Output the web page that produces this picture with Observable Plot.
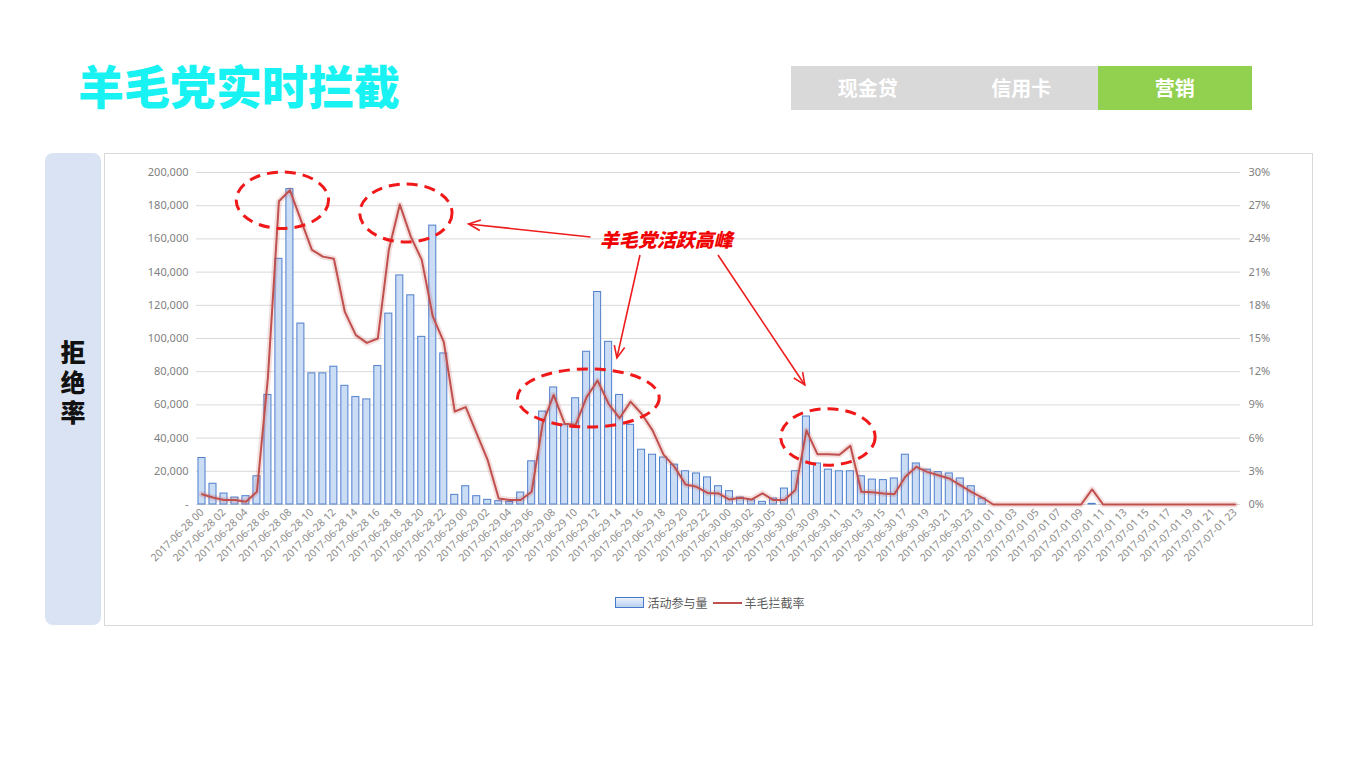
<!DOCTYPE html>
<html><head><meta charset="utf-8">
<script src="https://cdn.jsdelivr.net/npm/d3@7"></script>
<script src="https://cdn.jsdelivr.net/npm/@observablehq/plot@0.6"></script>
<style>
body{margin:0;background:#fff;width:1366px;height:768px;position:relative;overflow:hidden;font-family:"Noto Sans CJK SC","Noto Sans",sans-serif;}
#title{position:absolute;left:78px;top:52px;font-size:46px;font-weight:900;color:#18f2f2;letter-spacing:0px;line-height:64px;white-space:nowrap;}
#tabs{position:absolute;left:791px;top:66px;height:44px;display:flex;}
.tab{width:153.5px;height:44px;line-height:44px;text-align:center;color:#fff;font-size:20px;font-weight:700;background:#d9d9d9;}
.tab.on{background:#92d050;}
#side{position:absolute;left:45px;top:153px;width:56px;height:472px;background:#dae3f3;border-radius:8px;}
#sideText{position:absolute;left:58px;width:30px;top:340px;height:100px;writing-mode:vertical-rl;text-orientation:upright;letter-spacing:5px;font-size:25px;font-weight:900;line-height:30px;color:#111;}
#box{position:absolute;left:104px;top:153px;width:1209px;height:473px;border:1px solid #d9d9d9;box-sizing:border-box;}
#chart{position:absolute;left:104px;top:153px;}
#legend{position:absolute;top:594px;left:0;width:1420px;text-align:center;font-size:12px;color:#595959;display:flex;justify-content:center;align-items:center;gap:3px;}
.sw{display:inline-block;width:27px;height:9px;border:1px solid #4a78c8;background:linear-gradient(#eaf1fb,#b9d0f0);}
.ln{display:inline-block;width:29px;height:2px;background:#c0504d;margin-left:2px;}
</style></head><body>
<div id="title">羊毛党实时拦截</div>
<div id="tabs"><div class="tab">现金贷</div><div class="tab">信用卡</div><div class="tab on">营销</div></div>
<div id="side"></div>
<div id="sideText">拒绝率</div>
<div id="box"></div>
<div id="chart"></div>
<div id="legend"><span class="sw"></span><span>活动参与量</span><span class="ln"></span><span>羊毛拦截率</span></div>
<script>
// Hourly categories (06-30 04 is absent in the source)
const categories = [
"2017-06-28 00","2017-06-28 01","2017-06-28 02","2017-06-28 03","2017-06-28 04","2017-06-28 05","2017-06-28 06","2017-06-28 07","2017-06-28 08","2017-06-28 09","2017-06-28 10","2017-06-28 11","2017-06-28 12","2017-06-28 13","2017-06-28 14","2017-06-28 15","2017-06-28 16","2017-06-28 17","2017-06-28 18","2017-06-28 19","2017-06-28 20","2017-06-28 21","2017-06-28 22","2017-06-28 23",
"2017-06-29 00","2017-06-29 01","2017-06-29 02","2017-06-29 03","2017-06-29 04","2017-06-29 05","2017-06-29 06","2017-06-29 07","2017-06-29 08","2017-06-29 09","2017-06-29 10","2017-06-29 11","2017-06-29 12","2017-06-29 13","2017-06-29 14","2017-06-29 15","2017-06-29 16","2017-06-29 17","2017-06-29 18","2017-06-29 19","2017-06-29 20","2017-06-29 21","2017-06-29 22","2017-06-29 23",
"2017-06-30 00","2017-06-30 01","2017-06-30 02","2017-06-30 03","2017-06-30 05","2017-06-30 06","2017-06-30 07","2017-06-30 08","2017-06-30 09","2017-06-30 10","2017-06-30 11","2017-06-30 12","2017-06-30 13","2017-06-30 14","2017-06-30 15","2017-06-30 16","2017-06-30 17","2017-06-30 18","2017-06-30 19","2017-06-30 20","2017-06-30 21","2017-06-30 22","2017-06-30 23",
"2017-07-01 00","2017-07-01 01","2017-07-01 02","2017-07-01 03","2017-07-01 04","2017-07-01 05","2017-07-01 06","2017-07-01 07","2017-07-01 08","2017-07-01 09","2017-07-01 10","2017-07-01 11","2017-07-01 12","2017-07-01 13","2017-07-01 14","2017-07-01 15","2017-07-01 16","2017-07-01 17","2017-07-01 18","2017-07-01 19","2017-07-01 20","2017-07-01 21","2017-07-01 22","2017-07-01 23"];

// 活动参与量
const activity = [
28000,12500,6600,4200,5000,17000,66000,148000,190000,109000,79000,79000,83000,71500,64700,63300,83400,115000,138000,126000,101000,168000,91000,5800,
11000,5000,2800,2000,1500,7200,26000,56000,70500,48000,64000,92000,128000,98000,66000,48000,33000,30000,28300,24000,20000,18700,16300,11000,
8000,4200,2600,1600,3600,9600,20000,53000,24700,21000,20000,20000,17000,15000,14700,15700,30000,24700,21000,19500,18700,15700,11000,
3600,0,0,0,0,0,0,0,0,0,400,0,0,0,0,0,0,0,0,0,0,0,0,0];

// 羊毛拦截率 (%)
const rate = [
0.93,0.63,0.4,0.4,0.25,1.15,11.5,27.4,28.4,25.7,23.0,22.4,22.2,17.4,15.3,14.6,15.0,23.0,27.1,24.2,22.1,17.0,14.7,8.4,
8.8,6.4,4.0,0.54,0.4,0.4,1.15,7.3,9.9,7.3,7.2,9.7,11.2,9.1,7.8,9.3,8.2,6.7,4.5,3.4,1.8,1.6,1.05,1.0,
0.45,0.6,0.45,1.0,0.4,0.4,1.3,6.7,4.55,4.55,4.5,5.3,1.15,1.1,1.0,0.93,2.5,3.4,2.95,2.65,2.35,1.75,1.15,
0.63,0,0,0,0,0,0,0,0,0,1.36,0,0,0,0,0,0,0,0,0,0,0,0,0];

const xTickLabels = categories.filter((d, i) => i % 2 === 0);
const leftTicks = [0,20000,40000,60000,80000,100000,120000,140000,160000,180000,200000];
const rightTicks = [0,3,6,9,12,15,18,21,24,27,30];
const leftMax = 200000, rightMax = 30;

// Annotations (category position, left-axis value; radii in bands / value units)
const peakEllipses = [
  {cx: 7.36, cy: 183000, rx: 4.2, ry: 17000},
  {cx: 18.6, cy: 175300, rx: 4.2, ry: 17500},
  {cx: 35.2, cy: 63900, rx: 6.45, ry: 17500},
  {cx: 57.0, cy: 40400, rx: 4.3, ry: 17000}
];
const peakArrows = [
  {x1: 35.4, y1: 160800, x2: 24.3, y2: 168700},
  {x1: 39.9, y1: 150000, x2: 37.8, y2: 88000},
  {x1: 47.0, y1: 150000, x2: 54.9, y2: 71700}
];
const peakLabel = {x: 42.3, y: 159000, text: "羊毛党活跃高峰"};

const rows = categories.map((c, i) => ({cat: c, act: activity[i], rate: rate[i], rateY: rate[i] / rightMax * leftMax}));

function annotations(index, scales) {
  const x = scales.x, y = scales.y;
  const bw = typeof x.bandwidth === "function" ? x.bandwidth() : (x.bandwidth || 0);
  const step = x(categories[1]) - x(categories[0]);
  const c0 = x(categories[0]) + bw / 2;
  const px = i => c0 + i * step;
  const g = d3.create("svg:g");
  for (const e of peakEllipses) {
    g.append("ellipse").attr("cx", px(e.cx)).attr("cy", y(e.cy))
      .attr("rx", e.rx * step).attr("ry", Math.abs(y(0) - y(e.ry)))
      .attr("fill", "none").attr("stroke", "#f01818").attr("stroke-width", 3)
      .attr("stroke-dasharray", "11,7");
  }
  for (const a of peakArrows) {
    const X1 = px(a.x1), Y1 = y(a.y1), X2 = px(a.x2), Y2 = y(a.y2);
    const ang = Math.atan2(Y2 - Y1, X2 - X1);
    const L = 13, w = 0.42;
    g.append("line").attr("x1", X1).attr("y1", Y1).attr("x2", X2).attr("y2", Y2)
      .attr("stroke", "#ee1c1c").attr("stroke-width", 1.6);
    g.append("path").attr("d",
      `M${X2 - L * Math.cos(ang - w)},${Y2 - L * Math.sin(ang - w)}L${X2},${Y2}L${X2 - L * Math.cos(ang + w)},${Y2 - L * Math.sin(ang + w)}`)
      .attr("fill", "none").attr("stroke", "#ee1c1c").attr("stroke-width", 1.6);
  }
  g.append("text").attr("x", px(peakLabel.x)).attr("y", y(peakLabel.y)).attr("dy", "0.35em")
    .attr("text-anchor", "middle").attr("fill", "#f00000").attr("font-size", 19)
    .attr("font-weight", 900).attr("font-style", "italic")
    .attr("font-family", '"Noto Sans CJK SC",sans-serif').text(peakLabel.text);
  return g.node();
}

const fmtLeft = d => d === 0 ? "-" : d3.format(",")(d);
const fmtRight = d => Math.round(d / leftMax * rightMax) + "%";

const chart = Plot.plot({
  width: 1209,
  height: 431,
  marginTop: 19,
  marginBottom: 80,
  marginLeft: 92,
  marginRight: 73,
  style: {fontFamily: '"Noto Sans","Open Sans",sans-serif', fontSize: "11px", color: "#7f7f7f", background: "transparent"},
  x: {type: "band", domain: categories, paddingInner: 0.36, paddingOuter: 0.18, label: null},
  y: {domain: [0, leftMax], label: null},
  marks: [
    Plot.gridY(leftTicks, {stroke: "#d9d9d9", strokeOpacity: 1, strokeWidth: 1}),
    Plot.barY(rows, {x: "cat", y: "act", fill: "#cbdcf5", stroke: "#4f7fcc", strokeWidth: 1}),
    Plot.line(rows, {x: "cat", y: "rateY", stroke: "#c0504d", strokeOpacity: 0.18, strokeWidth: 6}),
    Plot.line(rows, {x: "cat", y: "rateY", stroke: "#c0504d", strokeWidth: 2}),
    Plot.axisY({anchor: "left", ticks: leftTicks, tickFormat: fmtLeft, tickSize: 0, tickPadding: 8, fill: "#7f7f7f", fontSize: 11, label: null}),
    Plot.axisY({anchor: "right", ticks: leftTicks, tickFormat: fmtRight, tickSize: 0, tickPadding: 8, fill: "#7f7f7f", fontSize: 11, label: null}),
    Plot.axisX({ticks: xTickLabels, tickRotate: -45, tickSize: 0, tickPadding: 6, fill: "#8c8c8c", fontSize: 10.5, label: null}),
    annotations
  ]
});
document.getElementById("chart").appendChild(chart);
</script>
</body></html>
